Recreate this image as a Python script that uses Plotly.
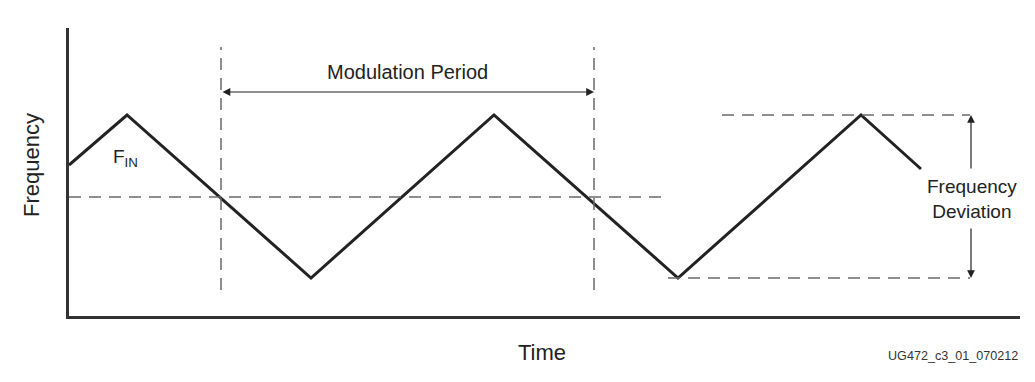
import plotly.graph_objects as go

# Triangle-wave (spread-spectrum modulation) profile
time = [0, 58, 242, 425, 609, 792, 852]
freq = [151, 201, 38, 201, 38, 201, 147]

f_center = 119
f_max = 201
f_min = 38
period_start = 152
period_end = 525

FONT = "Liberation Sans, Arial, sans-serif"
DARK = "#222222"
GRAY = "#6a6a6a"

fig = go.Figure()

# modulation waveform
fig.add_trace(go.Scatter(x=time, y=freq, mode="lines",
                         line=dict(color=DARK, width=3), hoverinfo="skip"))

dash = "12px,8px"
# center (F_IN) dashed line
fig.add_trace(go.Scatter(x=[0, 598], y=[f_center, f_center], mode="lines",
                         line=dict(color=GRAY, width=1.5, dash=dash), hoverinfo="skip"))
# period boundary dashed verticals
for xv in (period_start, period_end):
    fig.add_trace(go.Scatter(x=[xv, xv], y=[26, 269], mode="lines",
                             line=dict(color=GRAY, width=1.5, dash=dash), hoverinfo="skip"))
# deviation dashed horizontals
fig.add_trace(go.Scatter(x=[653, 901], y=[f_max, f_max], mode="lines",
                         line=dict(color=GRAY, width=1.5, dash=dash), hoverinfo="skip"))
fig.add_trace(go.Scatter(x=[599, 901], y=[f_min, f_min], mode="lines",
                         line=dict(color=GRAY, width=1.5, dash=dash), hoverinfo="skip"))

ann = []
# Modulation period double arrow
ann.append(dict(x=period_end, y=224, ax=period_start, ay=224, xref="x", yref="y",
                axref="x", ayref="y", showarrow=True, arrowhead=2, arrowsize=1.3,
                arrowwidth=1.2, arrowcolor=DARK, arrowside="end+start", text=""))
ann.append(dict(x=(period_start + period_end) / 2, y=244, xref="x", yref="y",
                text="Modulation Period", showarrow=False,
                font=dict(family=FONT, size=20, color=DARK)))
# Frequency deviation arrows
ann.append(dict(x=902, y=f_max, ax=902, ay=146, xref="x", yref="y",
                axref="x", ayref="y", showarrow=True, arrowhead=2, arrowsize=1.3,
                arrowwidth=1.2, arrowcolor=DARK, text=""))
ann.append(dict(x=902, y=f_min, ax=902, ay=89, xref="x", yref="y",
                axref="x", ayref="y", showarrow=True, arrowhead=2, arrowsize=1.3,
                arrowwidth=1.2, arrowcolor=DARK, text=""))
ann.append(dict(x=903, y=117, xref="x", yref="y", text="Frequency<br>Deviation",
                showarrow=False, align="center",
                font=dict(family=FONT, size=19, color=DARK)))
# F_IN
ann.append(dict(x=56, y=158, xref="x", yref="y", text="F<sub>IN</sub>",
                showarrow=False, font=dict(family=FONT, size=19, color=DARK)))
# axis titles (paper coords, outside plot area)
ann.append(dict(x=0.497, y=-0.125, xref="paper", yref="paper", text="Time",
                xanchor="center", yanchor="middle",
                showarrow=False, font=dict(family=FONT, size=22, color=DARK)))
ann.append(dict(x=-0.040, y=0.524, xref="paper", yref="paper", text="Frequency",
                xanchor="center", yanchor="middle",
                showarrow=False, textangle=-90,
                font=dict(family=FONT, size=22, color=DARK)))
ann.append(dict(x=0.9295, y=-0.139, xref="paper", yref="paper",
                text="UG472_c3_01_070212", showarrow=False,
                xanchor="center", yanchor="middle",
                font=dict(family=FONT, size=12.6, color="#333333")))

fig.update_layout(
    width=1027, height=374,
    margin=dict(l=61, r=15, t=20, b=66),
    paper_bgcolor="white", plot_bgcolor="white",
    showlegend=False,
    annotations=ann,
    xaxis=dict(range=[0, 951], showgrid=False, zeroline=False, showticklabels=False,
               ticks="", showline=True, linecolor="#333333", linewidth=3, fixedrange=True),
    yaxis=dict(range=[0, 288], showgrid=False, zeroline=False, showticklabels=False,
               ticks="", showline=True, linecolor="#333333", linewidth=3, fixedrange=True),
)

fig.write_html("out.html")
